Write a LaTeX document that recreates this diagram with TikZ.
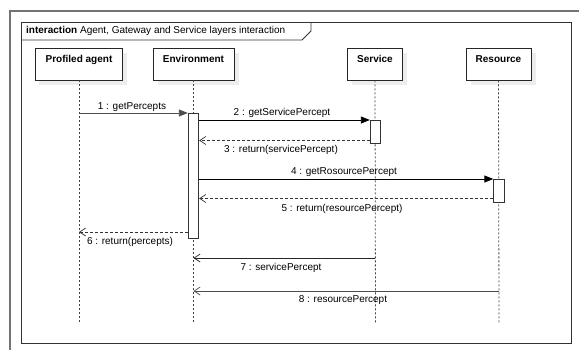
\documentclass[tikz,border=0pt]{standalone}
\usepackage{fontspec}
\setmainfont{Liberation Sans}
\usetikzlibrary{arrows.meta}
\begin{document}
\begin{tikzpicture}[x=1pt,y=-1pt,
  font=\fontsize{10}{12}\selectfont,
  head/.style={draw=black!85,fill=white,line width=0.8pt,minimum height=32pt,
    inner sep=0pt,text height=7.5pt,text depth=10.3pt,font=\fontsize{10}{12}\selectfont\bfseries},
  headshadow/.style={fill=black!7,draw=none},
  lifeline/.style={draw=black!75,line width=0.8pt,dash pattern=on 2pt off 2pt},
  actbar/.style={draw=black!80,fill=white,line width=0.8pt,minimum width=10.5pt,inner sep=0pt,anchor=north},
  call/.style={draw=black,line width=0.8pt,-{Triangle[length=9pt,width=7pt]}},
  reply/.style={draw=black!80,line width=0.7pt,dash pattern=on 3pt off 2pt,-{Straight Barb[length=6pt,width=8pt,line width=0.7pt]}},
  signal/.style={draw=black!85,line width=0.8pt,-{Straight Barb[length=6pt,width=8pt,line width=0.7pt]}},
  msglabel/.style={inner sep=0pt}
]
\useasboundingbox (0,0) rectangle (579,349);
\fill[white] (0,0) rectangle (579,349);

% outer page frame
\draw[black!55,line width=1.6pt] (10,352) -- (10,11) -- (582,11);

% interaction frame and its title tab
\draw[black!80,line width=0.9pt] (21,22) rectangle (571,343);
\draw[black!80,line width=0.8pt] (311,22) -- (311,31) -- (302,40) -- (21,40);
\node[anchor=west,inner sep=0pt] (title) at (26,31) {\textbf{interaction} Agent, Gateway and Service layers interaction};

% lifeline heads with their soft shadows
\fill[black!7] (39,53) rectangle (127,85);
\fill[black!7] (158,53) rectangle (239,85);
\fill[black!7] (352,53) rectangle (407,85);
\fill[black!7] (471,53) rectangle (536,85);
\node[head,minimum width=87pt] (pa) at (79,64) {Profiled agent};
\node[head,minimum width=81pt] (env) at (193.5,64) {Environment};
\node[head,minimum width=55pt] (svc) at (375,64) {Service};
\node[head,minimum width=65pt] (res) at (498.5,64) {Resource};

% lifeline ends
\coordinate (paend) at (79,323);
\coordinate (envend) at (193.5,323);
\coordinate (svcend) at (375.5,323);
\coordinate (resend) at (499,323);

\draw[lifeline] (pa.south) -- (paend);
\draw[lifeline] (env.south) -- (envend);
\draw[lifeline] (svc.south) -- (svcend);
\draw[lifeline] (res.south) -- (resend);

% activation bars
\node[actbar,minimum height=125pt] (envbar) at (193.5,113) {};
\node[actbar,minimum height=23pt] (svcbar) at (375.5,120) {};
\node[actbar,minimum height=23pt] (resbar) at (499,179) {};

% message heights
\coordinate (y1) at (0,113);
\coordinate (y3) at (0,140.5);
\coordinate (y5) at (0,198.5);
\coordinate (y6) at (0,232);
\coordinate (y7) at (0,258);
\coordinate (y8) at (0,291);

% messages
\draw[call,draw=black!70] (pa.south |- y1) -- (envbar.north west);
\draw[call] (envbar.east |- svcbar.north) -- (svcbar.north west);
\draw[reply] (svcbar.west |- y3) -- (envbar.east |- y3);
\draw[call] (envbar.east |- resbar.north) -- (resbar.north west);
\draw[reply] (resbar.west |- y5) -- (envbar.east |- y5);
\draw[reply] (envbar.west |- y6) -- (pa.south |- y6);
\draw[signal] (svc.south |- y7) -- (env.south |- y7);
\draw[signal,draw=black!70] (res.south |- y8) -- (env.south |- y8);

% message labels
\node[msglabel] (l1) at (132,107) {1 : getPercepts};
\node[msglabel] (l2) at (282,113) {2 : getServicePercept};
\node[msglabel] (l3) at (281,150) {3 : return(servicePercept)};
\node[msglabel] (l4) at (344,172) {4 : getRosourcePercept};
\node[msglabel] (l5) at (342,208.5) {5 : return(resourcePercept)};
\node[msglabel] (l6) at (130,242) {6 : return(percepts)};
\node[msglabel] (l7) at (281,267.5) {7 : servicePercept};
\node[msglabel] (l8) at (343,300) {8 : resourcePercept};
\end{tikzpicture}
\end{document}
